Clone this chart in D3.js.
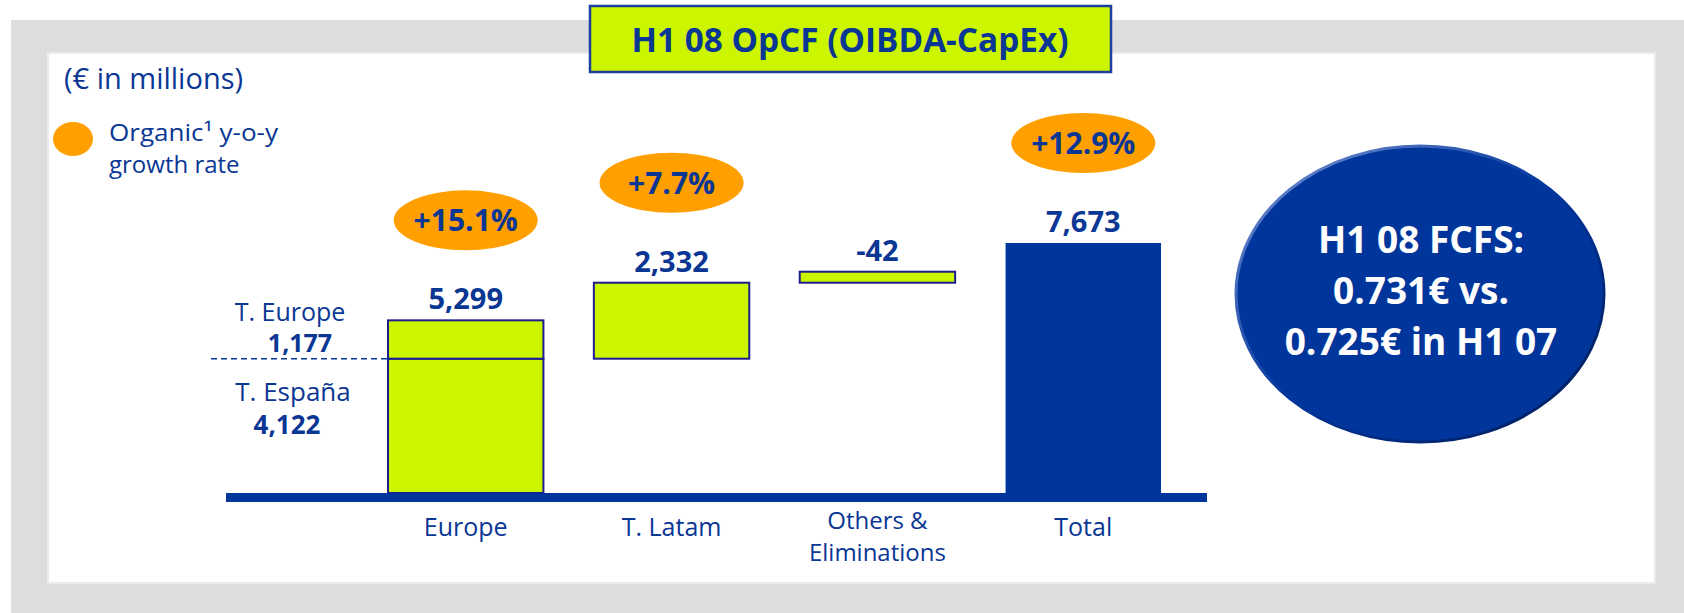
<!DOCTYPE html>
<html>
<head>
<meta charset="utf-8">
<script src="https://cdn.jsdelivr.net/npm/d3@7"></script>
<style>
  body { margin: 0; background: #fff; }
  text { font-family: "Open Sans", "Noto Sans", sans-serif; }
</style>
</head>
<body>
<div id="area"></div>
<script>
// chart values
var categories = ["Europe", "T. Latam", "Others & Eliminations", "Total"];
var categoryLines = [["Europe"], ["T. Latam"], ["Others &", "Eliminations"], ["Total"]];
var values = [5299, 2332, -42, 7673];
var growth = ["+15.1%", "+7.7%", null, "+12.9%"];
var europeParts = ["T. España", "T. Europe"];
var europeValues = [4122, 1177];
var fcfsLines = ["H1 08 FCFS:", "0.731€ vs.", "0.725€ in H1 07"];

var blue = "#00359b", lime = "#ccf500", orange = "#ff9f00", textBlue = "#0a3694";
var width = 1684, height = 613;

var fmt = d3.format(",");

var svg = d3.select("#area")
.append("svg")
  .attr("width", width)
  .attr("height", height);

// gray frame + white panel
svg.append("rect").attr("x", 11).attr("y", 20).attr("width", width - 11).attr("height", height - 20).style("fill", "#dddddd");
svg.append("rect").attr("x", 48).attr("y", 53).attr("width", 1607).attr("height", 530)
  .style("fill", "#fff").style("stroke", "#ebebeb").style("stroke-width", 2);

// title box
svg.append("rect").attr("x", 590).attr("y", 6).attr("width", 521).attr("height", 66)
  .style("fill", lime).style("stroke", "#1d3f9e").style("stroke-width", 2.5);
svg.append("text").attr("x", 850).attr("y", 52).attr("text-anchor", "middle")
  .style("font-size", "34px").style("font-weight", 700).style("fill", textBlue)
  .attr("textLength", 437).attr("lengthAdjust", "spacingAndGlyphs")
  .text("H1 08 OpCF (OIBDA-CapEx)");

svg.append("text").attr("x", 64).attr("y", 89)
  .style("font-size", "29px").style("fill", textBlue).text("(€ in millions)");

// legend
svg.append("ellipse").attr("cx", 73).attr("cy", 139).attr("rx", 20).attr("ry", 17).style("fill", orange);
svg.append("text").attr("x", 109).attr("y", 141).style("font-size", "24px").style("fill", textBlue)
  .attr("textLength", 169).attr("lengthAdjust", "spacingAndGlyphs")
  .text("Organic\u00b9 y-o-y");
svg.append("text").attr("x", 109).attr("y", 173).style("font-size", "24px").style("fill", textBlue).text("growth rate");

// scales
var x = d3.scaleBand()
.domain(categories)
.range([388, 1161])
.paddingInner(0.245)
.paddingOuter(0);

var y = d3.scaleLinear()
.domain([0, values[3]])
.range([493, 243]);

// bar extents: Europe stacked, Latam floating from T. España level, Others on top of Latam
var latamBase = europeValues[0];
var latamTop = latamBase + values[1];
var bars = [
  {cat: categories[0], y0: 0, y1: europeValues[0], fill: lime},
  {cat: categories[0], y0: europeValues[0], y1: europeValues[0] + europeValues[1], fill: lime},
  {cat: categories[1], y0: latamBase, y1: latamTop, fill: lime},
  {cat: categories[2], y0: latamTop, y1: latamTop + Math.abs(values[2]), minH: 11, fill: lime},
  {cat: categories[3], y0: 0, y1: values[3], fill: blue}
];

svg.selectAll(".bar")
.data(bars)
.enter()
.append("rect")
  .attr("class", "bar")
  .attr("x", function(d) { return x(d.cat); })
  .attr("width", x.bandwidth())
  .attr("y", function(d) { var h = Math.max(y(d.y0) - y(d.y1), d.minH || 0); return y(d.y0) - h; })
  .attr("height", function(d) { return Math.max(y(d.y0) - y(d.y1), d.minH || 0); })
  .style("fill", function(d) { return d.fill; })
  .style("stroke", function(d) { return d.fill == blue ? "none" : "#1d1d8f"; })
  .style("stroke-width", 2);

// top of each column, in pixels
var tops = [y(values[0]), y(latamTop), y(latamTop) - 11, y(values[3])];

// value labels
svg.selectAll(".val")
.data(values)
.enter()
.append("text")
  .attr("class", "val")
  .attr("x", function(d, i) { return x(categories[i]) + x.bandwidth() / 2; })
  .attr("y", function(d, i) { return tops[i] - 11; })
  .attr("text-anchor", "middle")
  .style("font-size", "29px").style("font-weight", 700).style("fill", textBlue)
  .text(function(d) { return fmt(d).replace("−", "-"); });

// growth bubbles
var g = svg.selectAll(".growth")
.data(growth.map(function(d, i) { return {v: d, i: i}; }).filter(function(d) { return d.v; }))
.enter()
.append("g")
  .attr("class", "growth")
  .attr("transform", function(d) { return "translate(" + (x(categories[d.i]) + x.bandwidth() / 2) + "," + (tops[d.i] - 100) + ")"; });
g.append("ellipse").attr("rx", 72).attr("ry", 30).style("fill", orange);
g.append("text").attr("y", 11).attr("text-anchor", "middle")
  .style("font-size", "30px").style("font-weight", 700).style("fill", textBlue)
  .text(function(d) { return d.v; });

// baseline
svg.append("rect").attr("x", 226).attr("y", y(0)).attr("width", 981).attr("height", 9).style("fill", blue);

// category labels
categoryLines.forEach(function(lines, i) {
  var cx = x(categories[i]) + x.bandwidth() / 2;
  var t = svg.append("text").attr("text-anchor", "middle").style("font-size", "25px").style("fill", textBlue);
  if (lines.length == 1) {
    t.attr("x", cx).attr("y", 536).text(lines[0]);
  } else {
    t.attr("x", cx).attr("y", 529).style("font-size", "24px").text(lines[0]);
    svg.append("text").attr("text-anchor", "middle").style("font-size", "24px").style("fill", textBlue)
      .attr("x", cx).attr("y", 561).text(lines[1]);
  }
});

// Europe split annotation
var split = y(europeValues[0]);
svg.append("line").attr("x1", 211).attr("x2", x(categories[0])).attr("y1", split).attr("y2", split)
  .style("stroke", textBlue).style("stroke-width", 1.5).style("stroke-dasharray", "6,4");
svg.append("text").attr("x", 290).attr("y", split - 38).attr("text-anchor", "middle")
  .style("font-size", "25px").style("fill", textBlue).text(europeParts[1]);
svg.append("text").attr("x", 300).attr("y", split - 7).attr("text-anchor", "middle")
  .style("font-size", "25px").style("font-weight", 700).style("fill", textBlue).text(fmt(europeValues[1]));
svg.append("text").attr("x", 293).attr("y", split + 42).attr("text-anchor", "middle")
  .style("font-size", "26px").style("fill", textBlue).text(europeParts[0]);
svg.append("text").attr("x", 287).attr("y", split + 75).attr("text-anchor", "middle")
  .style("font-size", "26px").style("font-weight", 700).style("fill", textBlue).text(fmt(europeValues[0]));

// FCFS bubble
var defs = svg.append("defs");
var grad = defs.append("linearGradient").attr("id", "edge").attr("x1", "0").attr("y1", "0").attr("x2", "1").attr("y2", "1");
grad.append("stop").attr("offset", "0%").attr("stop-color", "#7d97d8");
grad.append("stop").attr("offset", "50%").attr("stop-color", blue);
grad.append("stop").attr("offset", "100%").attr("stop-color", "#001a55");
svg.append("ellipse").attr("cx", 1420).attr("cy", 294).attr("rx", 184).attr("ry", 148)
  .style("fill", blue).style("stroke", "url(#edge)").style("stroke-width", 3);
svg.selectAll(".fcfs")
.data(fcfsLines)
.enter()
.append("text")
  .attr("class", "fcfs")
  .attr("x", 1421)
  .attr("y", function(d, i) { return 253 + i * 51; })
  .attr("text-anchor", "middle")
  .style("font-size", "37px").style("font-weight", 700).style("fill", "#fff")
  .text(function(d) { return d; });
</script>
</body>
</html>
